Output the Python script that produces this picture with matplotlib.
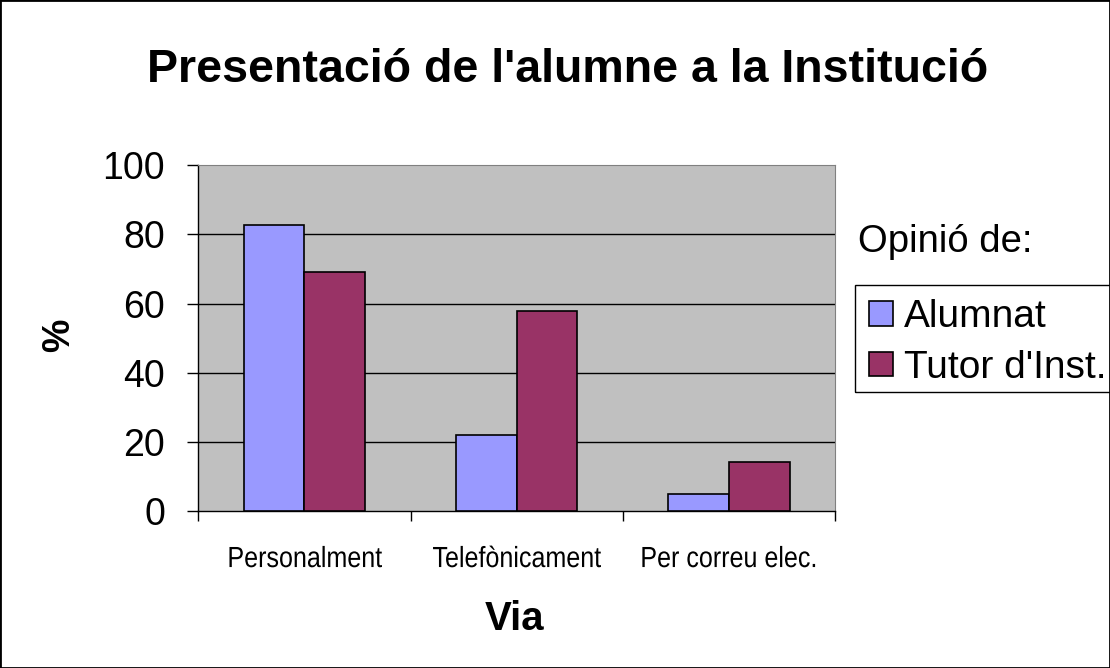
import numpy as np
import matplotlib.pyplot as plt
from matplotlib.patches import Rectangle
from matplotlib.patheffects import AbstractPathEffect
from matplotlib.transforms import Affine2D

categories = ['Personalment', 'Telefònicament', 'Per correu elec.']
alumnat = [82.6, 21.9, 4.8]
tutor = [69.1, 57.8, 14.3]
series_names = ['Alumnat', "Tutor d'Inst."]
yticks = [0, 20, 40, 60, 80, 100]

plt.rcParams['font.family'] = ['Liberation Sans', 'DejaVu Sans']


# the category labels use a narrow font, so squeeze the glyphs sideways
class Stretch(AbstractPathEffect):
    def __init__(self, sx):
        super().__init__()
        self.sx = sx

    def draw_path(self, renderer, gc, tpath, affine, rgbFace=None):
        ext = tpath.get_extents()
        mx = (ext.x0 + ext.x1) / 2
        sq = Affine2D().translate(-mx, 0).scale(self.sx, 1).translate(mx, 0)
        renderer.draw_path(gc, tpath, sq + affine, rgbFace)


fig = plt.figure(figsize=(11.1, 6.68), dpi=100)
ax = fig.add_axes([0.1787, 0.235, 0.5736, 0.5175])
ax.set_facecolor('#C0C0C0')

x = np.arange(len(categories))
w = 1 / 3.5
ax.bar(x - w / 2, alumnat, w, color='#9999FF', edgecolor='black', linewidth=1.2, label=series_names[0], zorder=3)
ax.bar(x + w / 2, tutor, w, color='#993366', edgecolor='black', linewidth=1.2, label=series_names[1], zorder=3)

ax.set_xlim(-0.5, 2.5)
ax.set_ylim(0, 100)
ax.set_yticks(yticks)
ax.set_yticklabels([str(v) for v in yticks], fontsize=27)
for v in yticks[1:-1]:
    ax.axhline(v, color='black', linewidth=1, zorder=1)

# ticks on category borders, labels centred
ax.set_xticks([-0.5, 0.5, 1.5, 2.5])
ax.set_xticklabels([])
ax.set_xticks(x, minor=True)
ax.set_xticklabels(categories, minor=True, fontsize=21)
for t in ax.get_xticklabels(minor=True):
    t.set_path_effects([Stretch(0.86)])
ax.tick_params(axis='x', which='minor', length=0, pad=24.5)
ax.tick_params(axis='x', which='major', length=7, width=1, direction='out')
ax.tick_params(axis='y', length=8, width=1, direction='out', pad=16)

ax.spines['top'].set_color('#808080')
ax.spines['right'].set_color('#808080')
ax.spines['left'].set_linewidth(1)
ax.spines['bottom'].set_linewidth(1)

ax.set_xlabel('Via', fontsize=29, fontweight='bold')
ax.xaxis.label.set_verticalalignment('center')
ax.xaxis.set_label_coords(0.497, -0.312)
ax.set_ylabel('%', fontsize=27, fontweight='bold')
ax.yaxis.label.set_verticalalignment('center')
ax.yaxis.set_label_coords(-0.219, 0.509)

fig.text(568 / 1110, 1 - 82 / 668, "Presentació de l'alumne a la Institució", ha='center', va='baseline',
         fontsize=33.5, fontweight='bold')

fig.text(858 / 1110, 1 - 252 / 668, 'Opinió de:', ha='left', va='baseline', fontsize=27.5)
leg = fig.legend(loc='upper left', bbox_to_anchor=(855 / 1110, 1 - 285 / 668), fontsize=28,
                 frameon=False, handlelength=0.62, handleheight=0.6, handletextpad=0.28,
                 borderpad=0.36, labelspacing=0.38, borderaxespad=0)
# legend frame runs off the right edge, as in the original
fig.patches.append(Rectangle((855 / 1110, 1 - 392 / 668), 0.3, 107 / 668, transform=fig.transFigure,
                             fill=False, edgecolor='black', linewidth=1))

fig.patches.append(Rectangle((0, 0), 1, 1, transform=fig.transFigure, fill=False,
                             edgecolor='black', linewidth=2))

fig.savefig('out.png', dpi=100)
